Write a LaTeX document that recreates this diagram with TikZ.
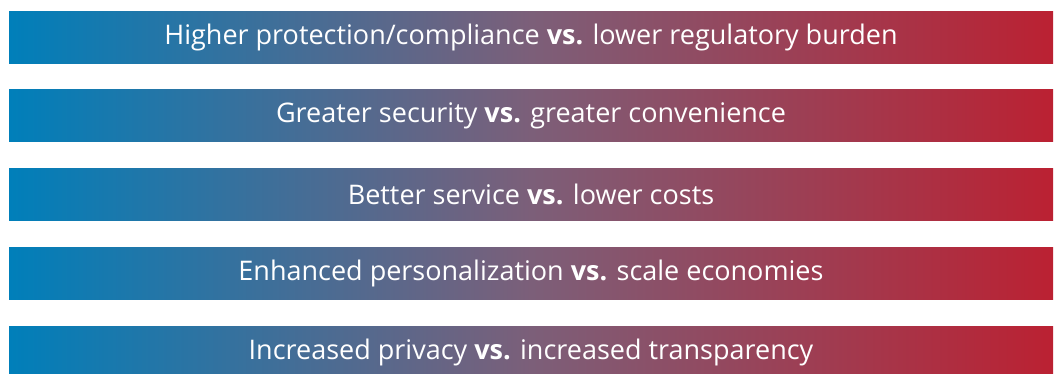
\documentclass[tikz,border=0pt]{standalone}
\usepackage{fontspec}
\setmainfont{Open Sans}

\definecolor{barblue}{RGB}{0,127,186}
\definecolor{barmauve}{RGB}{124,95,121}
\definecolor{barred}{RGB}{187,33,50}

% blue -> mauve -> red, stops kept inside 25bp..75bp
\pgfdeclarehorizontalshading{barshade}{100bp}{%
    color(0bp)=(barblue); color(25bp)=(barblue);
    color(50bp)=(barmauve);
    color(75bp)=(barred); color(100bp)=(barred)}

\tikzset{
    bar/.style={shading=barshade, minimum width=1044, minimum height=52,
        inner sep=0pt, text=white}
}

\begin{document}
\begin{tikzpicture}[x=1pt, y=1pt, every node/.style={font=\fontsize{27}{32}\selectfont}]
    \useasboundingbox (0,0) rectangle (1054,-373);
    % Trade-off bars
    \foreach \t [count=\i from 0] in {
        {Higher protection/compliance \textbf{vs.} lower regulatory burden},
        {Greater security \textbf{vs.} greater convenience},
        {Better service \textbf{vs.} lower costs},
        {Enhanced personalization \textbf{vs.} scale economies},
        {Increased privacy \textbf{vs.} increased transparency}} {
        \node[bar] (bar\i) at (531, -37-\i*78.75) {\t};
    }
\end{tikzpicture}
\end{document}
